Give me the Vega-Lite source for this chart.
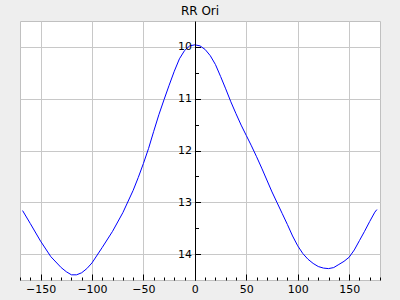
{
  "$schema": "https://vega.github.io/schema/vega-lite/v6.json",
  "width": 360,
  "height": 259,
  "autosize": {"type": "none"},
  "padding": {"left": 20, "top": 21, "right": 20, "bottom": 20},
  "background": "#eeeeee",
  "title": {"text": "RR Ori", "font": "DejaVu Sans", "fontSize": 12, "fontWeight": "normal", "color": "#000000", "offset": 3},
  "view": {"fill": "#ffffff", "stroke": "#c0c0c0", "strokeWidth": 1},
  "config": {
    "axis": {"labelFont": "DejaVu Sans", "labelFontSize": 11, "labelColor": "#000000", "tickColor": "#000000", "gridColor": "#c8c8c8", "gridOpacity": 1, "gridWidth": 1, "title": null}
  },
  "data": {"values": [
    {"phase": -167.5, "mag": 13.16},
    {"phase": -160, "mag": 13.41},
    {"phase": -150, "mag": 13.75},
    {"phase": -140, "mag": 14.05},
    {"phase": -130, "mag": 14.26},
    {"phase": -125, "mag": 14.34},
    {"phase": -120, "mag": 14.40},
    {"phase": -115, "mag": 14.40},
    {"phase": -110, "mag": 14.36},
    {"phase": -105, "mag": 14.28},
    {"phase": -100, "mag": 14.17},
    {"phase": -90, "mag": 13.87},
    {"phase": -80, "mag": 13.56},
    {"phase": -70, "mag": 13.20},
    {"phase": -60, "mag": 12.77},
    {"phase": -55, "mag": 12.52},
    {"phase": -50, "mag": 12.25},
    {"phase": -45, "mag": 11.96},
    {"phase": -40, "mag": 11.63},
    {"phase": -35, "mag": 11.31},
    {"phase": -30, "mag": 11.02},
    {"phase": -25, "mag": 10.74},
    {"phase": -20, "mag": 10.47},
    {"phase": -15, "mag": 10.23},
    {"phase": -10, "mag": 10.07},
    {"phase": -5, "mag": 9.98},
    {"phase": 0, "mag": 9.96},
    {"phase": 5, "mag": 9.98},
    {"phase": 10, "mag": 10.05},
    {"phase": 15, "mag": 10.17},
    {"phase": 20, "mag": 10.34},
    {"phase": 25, "mag": 10.57},
    {"phase": 30, "mag": 10.81},
    {"phase": 35, "mag": 11.06},
    {"phase": 40, "mag": 11.29},
    {"phase": 45, "mag": 11.51},
    {"phase": 50, "mag": 11.71},
    {"phase": 55, "mag": 11.91},
    {"phase": 60, "mag": 12.12},
    {"phase": 65, "mag": 12.34},
    {"phase": 70, "mag": 12.57},
    {"phase": 75, "mag": 12.80},
    {"phase": 80, "mag": 13.01},
    {"phase": 85, "mag": 13.22},
    {"phase": 90, "mag": 13.43},
    {"phase": 95, "mag": 13.65},
    {"phase": 100, "mag": 13.84},
    {"phase": 105, "mag": 13.99},
    {"phase": 110, "mag": 14.10},
    {"phase": 115, "mag": 14.18},
    {"phase": 120, "mag": 14.24},
    {"phase": 125, "mag": 14.27},
    {"phase": 130, "mag": 14.28},
    {"phase": 135, "mag": 14.26},
    {"phase": 140, "mag": 14.20},
    {"phase": 145, "mag": 14.14},
    {"phase": 150, "mag": 14.06},
    {"phase": 155, "mag": 13.92},
    {"phase": 160, "mag": 13.74},
    {"phase": 165, "mag": 13.56},
    {"phase": 170, "mag": 13.37},
    {"phase": 175, "mag": 13.19},
    {"phase": 177, "mag": 13.14}
  ]},
  "resolve": {"axis": {"x": "independent", "y": "independent"}},
  "layer": [
    {
      "mark": {"type": "line", "opacity": 0},
      "encoding": {
        "x": {"field": "phase", "type": "quantitative", "scale": {"domain": [-170, 180], "nice": false, "zero": false},
              "axis": {"orient": "bottom", "values": [-150, -100, -50, 0, 50, 100, 150], "labels": false, "ticks": false, "grid": true, "domain": false, "zindex": 0}},
        "y": {"field": "mag", "type": "quantitative", "scale": {"domain": [14.5, 9.5], "nice": false, "zero": false},
              "axis": {"orient": "right", "values": [10, 11, 12, 13, 14], "labels": false, "ticks": false, "grid": true, "domain": false, "zindex": 0}}
      }
    },
    {
      "mark": {"type": "line", "opacity": 0},
      "encoding": {
        "x": {"field": "phase", "type": "quantitative",
              "axis": {"orient": "bottom", "values": [-170,-160,-140,-130,-120,-110,-90,-80,-70,-60,-40,-30,-20,-10,10,20,30,40,60,70,80,90,110,120,130,140,160,170,180], "labels": false, "grid": false, "domain": false, "tickSize": -3, "zindex": 1}},
        "y": {"field": "mag", "type": "quantitative",
              "axis": {"orient": "left", "offset": -175, "values": [10.5, 11.5, 12.5, 13.5], "labels": false, "grid": false, "domain": false, "tickSize": -3.5, "zindex": 1}}
      }
    },
    {
      "mark": {"type": "line", "color": "#0000ff", "strokeWidth": 1},
      "encoding": {
        "x": {"field": "phase", "type": "quantitative",
              "axis": {"orient": "bottom", "values": [-150, -100, -50, 0, 50, 100, 150], "grid": false, "domain": false, "tickSize": -6, "labelPadding": 9, "zindex": 1}},
        "y": {"field": "mag", "type": "quantitative",
              "axis": {"orient": "left", "offset": -175, "values": [10, 11, 12, 13, 14], "grid": false, "domain": true, "domainColor": "#000000", "tickSize": -5.5, "labelPadding": 9, "zindex": 1}}
      }
    }
  ]
}
